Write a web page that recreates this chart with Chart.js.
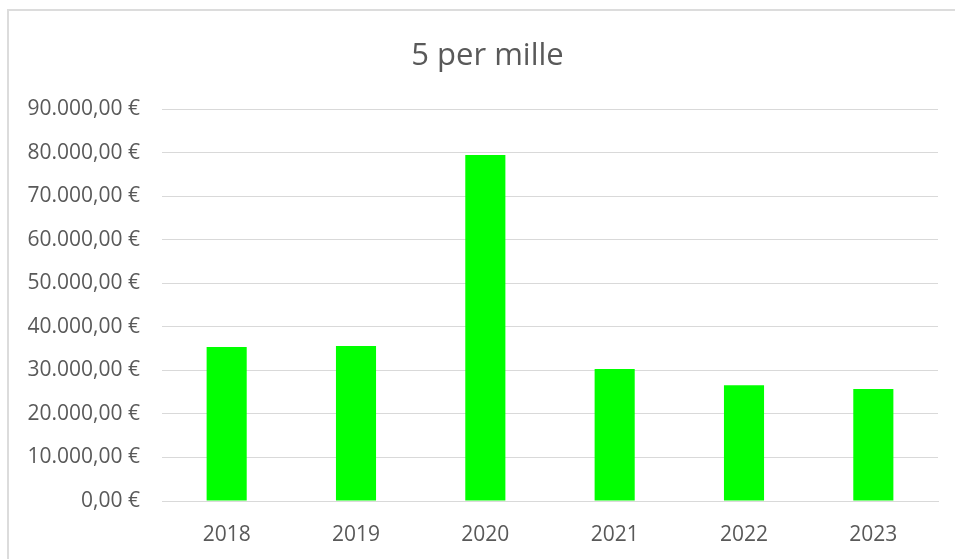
<!DOCTYPE html>
<html>
<head>
<meta charset="utf-8">
<title>5 per mille</title>
<script src="https://cdn.jsdelivr.net/npm/chart.js@4.4.1/dist/chart.umd.min.js"></script>
<style>
    html, body { margin: 0; padding: 0; background: #fff; overflow: hidden; }
    .frame {
        position: absolute;
        left: 7px;
        top: 9px;
        width: 1000px;
        height: 600px;
        border: 2px solid #dcdcdc;
    }
    .wrap { position: absolute; left: 0; top: 0; width: 975px; height: 559px; }
</style>
</head>
<body>
<div class="frame"></div>
<div class="wrap"><canvas id="perMilleChart" width="975" height="559"></canvas></div>
<script>
// Dati
const years = ['2018', '2019', '2020', '2021', '2022', '2023'];
const amounts = [35400, 35600, 79500, 30300, 26600, 25700];
const yTicks = [0, 10000, 20000, 30000, 40000, 50000, 60000, 70000, 80000, 90000];

// Formatta in euro stile italiano: 90.000,00 €
function formatEuro(value) {
    const parts = Number(value).toFixed(2).split('.');
    const intPart = parts[0].replace(/\B(?=(\d{3})+(?!\d))/g, '.');
    return intPart + ',' + parts[1] + ' €';
}

document.addEventListener('DOMContentLoaded', function() {
    initChart();
});

function initChart() {
    const ctx = document.getElementById('perMilleChart');
    if (!ctx) return;

    new Chart(ctx, {
        type: 'bar',
        data: {
            labels: years,
            datasets: [{
                label: '5 per mille',
                data: amounts,
                backgroundColor: '#00ff00',
                borderWidth: 0,
                categoryPercentage: 1,
                barPercentage: 0.31
            }]
        },
        options: {
            responsive: false,
            animation: false,
            layout: {
                padding: 0
            },
            plugins: {
                legend: { display: false },
                tooltip: { enabled: false },
                title: {
                    display: true,
                    text: '5 per mille',
                    color: '#595959',
                    font: { family: 'Open Sans', size: 31, weight: 'normal' },
                    padding: { top: 38, bottom: 34 }
                }
            },
            scales: {
                y: {
                    min: 0,
                    max: 90000,
                    afterBuildTicks: function(scale) {
                        scale.ticks = yTicks.map(function(v) { return { value: v }; });
                    },
                    afterFit: function(scale) {
                        scale.width = 162;
                    },
                    border: { display: false },
                    grid: {
                        color: '#d9d9d9',
                        lineWidth: 1,
                        drawTicks: false
                    },
                    ticks: {
                        color: '#595959',
                        padding: 22,
                        font: { family: 'Open Sans', size: 21 },
                        callback: function(value) {
                            return formatEuro(value);
                        }
                    }
                },
                // asse vuoto a destra: tiene il margine senza spostare il titolo
                yRight: {
                    position: 'right',
                    min: 0,
                    max: 90000,
                    afterFit: function(scale) {
                        scale.width = 37;
                    },
                    border: { display: false },
                    grid: { display: false, drawTicks: false },
                    ticks: { display: false }
                },
                x: {
                    afterFit: function(scale) {
                        scale.height = 58;
                    },
                    border: { display: true, color: '#d9d9d9', width: 1 },
                    grid: { display: false, drawTicks: false },
                    ticks: {
                        color: '#595959',
                        padding: 21,
                        font: { family: 'Open Sans', size: 21 }
                    }
                }
            }
        }
    });
}
</script>
</body>
</html>
